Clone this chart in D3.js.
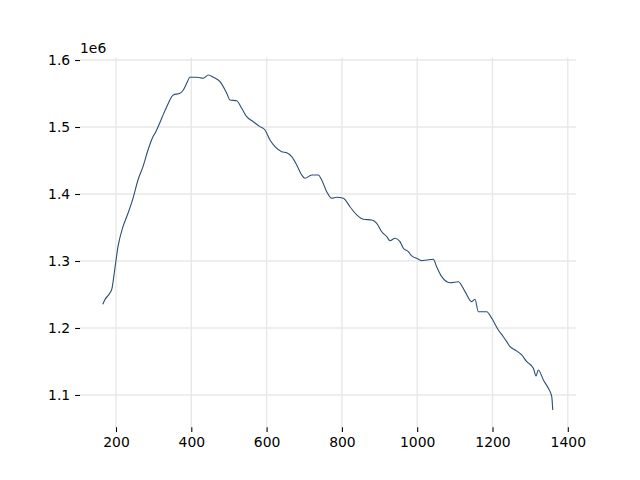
<!DOCTYPE html>
<html>
<head>
<meta charset="utf-8">
<script src="https://cdn.jsdelivr.net/npm/d3@7"></script>
<style>
  html, body { margin: 0; padding: 0; background: #fff; }
  svg { display: block; font-family: "DejaVu Sans", sans-serif; }
</style>
</head>
<body>
<svg id="chart" width="640" height="480"></svg>
<script>
// Data (x values and y values, in units of 1e6)
const xValues = [165, 170, 183.3, 189.4, 196.5, 205.3, 218.6, 231.9, 245.2, 258.4, 271.7, 285, 298.3, 303.6,
  321.4, 334.7, 352.2, 370, 378.8, 387.8, 396.6, 414.4, 431.9, 445.2, 458.5, 476.3, 494.1, 502.8, 520.6,
  533.9, 547.2, 564.7, 582.5, 595.8, 609.1, 622.4, 640.2, 653.4, 666.7, 680, 693.3, 702, 719.8, 737.4,
  746.4, 759.7, 773, 786.3, 803.8, 821.6, 839.4, 856.9, 879.2, 892.5, 905.8, 919.1, 927.8, 941.1, 954.4,
  963.2, 976.4, 985.5, 998.8, 1012, 1025.3, 1042.9, 1051.6, 1065.2, 1087.2, 1109.3, 1127.1, 1144.8,
  1153.6, 1162.4, 1184.7, 1198, 1215.5, 1228.8, 1237.8, 1246.6, 1259.9, 1277.7, 1291, 1308.5, 1315.7,
  1321.8, 1335.1, 1348.4, 1357.4, 1360];
const yValues = [1.2354, 1.2418, 1.2518, 1.2593, 1.2866, 1.3214, 1.3512, 1.3712, 1.3936, 1.4209, 1.4408,
  1.4657, 1.4855, 1.4906, 1.5130, 1.5303, 1.5478, 1.5503, 1.5552, 1.5652, 1.5742, 1.5742, 1.5727, 1.5776,
  1.5742, 1.5676, 1.5503, 1.5403, 1.5393, 1.5279, 1.5154, 1.5079, 1.5005, 1.4955, 1.4806, 1.4706, 1.4631,
  1.4616, 1.4557, 1.4433, 1.4284, 1.4234, 1.4284, 1.4284, 1.4209, 1.4034, 1.3936, 1.3951, 1.3936, 1.3810,
  1.3687, 1.3622, 1.3612, 1.3563, 1.3437, 1.3363, 1.3303, 1.3339, 1.3288, 1.3190, 1.3139, 1.3075, 1.3040,
  1.3005, 1.3015, 1.3025, 1.2915, 1.2766, 1.2676, 1.2691, 1.2542, 1.2393, 1.2428, 1.2243, 1.2243, 1.2145,
  1.1970, 1.1870, 1.1796, 1.1721, 1.1672, 1.1597, 1.1497, 1.1399, 1.1284, 1.1373, 1.1224, 1.1100, 1.0975,
  1.0776];
const xTicks = [200, 400, 600, 800, 1000, 1200, 1400];
const yTicks = [1.1, 1.2, 1.3, 1.4, 1.5, 1.6];
const offsetLabel = "1e6";

const W = 640, H = 480;
const m = { left: 80, right: 576, top: 57.6, bottom: 427.2 };
const svg = d3.select("#chart");

const x = d3.scaleLinear().domain([104.4, 1421.8]).range([m.left, m.right]);
const y = d3.scaleLinear().domain([1.0519, 1.6036]).range([m.bottom, m.top]);

const data = xValues.map((v, i) => [v, yValues[i]]);

// grid
const grid = svg.append("g");
grid.selectAll("line.gx").data(xTicks).enter().append("line")
  .attr("x1", d => x(d)).attr("x2", d => x(d))
  .attr("y1", m.top).attr("y2", m.bottom)
  .attr("stroke", "#e8e8e8").attr("stroke-width", 1.4);
grid.selectAll("line.gy").data(yTicks).enter().append("line")
  .attr("x1", m.left).attr("x2", m.right)
  .attr("y1", d => y(d)).attr("y2", d => y(d))
  .attr("stroke", "#e8e8e8").attr("stroke-width", 1.4);

// line
svg.append("path").datum(data)
  .attr("fill", "none")
  .attr("stroke", "#2e4d73")
  .attr("stroke-width", 1.1)
  .attr("stroke-linejoin", "round")
  .attr("d", d3.line().curve(d3.curveMonotoneX).x(d => x(d[0])).y(d => y(d[1])));

// axes
const xAxis = d3.axisBottom(x).tickValues(xTicks).tickSize(4.9).tickPadding(4.9).tickFormat(d3.format("d"));
const gx = svg.append("g").attr("transform", `translate(0,${m.bottom})`).call(xAxis);
gx.select(".domain").remove();
gx.selectAll(".tick line").attr("stroke", "#000").attr("stroke-width", 1.1);
gx.selectAll(".tick text").attr("fill", "#000").style("font-size", "13.9px").style("font-family", "DejaVu Sans");

const yAxis = d3.axisLeft(y).tickValues(yTicks).tickSize(4.9).tickPadding(4.9).tickFormat(d3.format(".1f"));
const gy = svg.append("g").attr("transform", `translate(${m.left},0)`).call(yAxis);
gy.select(".domain").remove();
gy.selectAll(".tick line").attr("stroke", "#000").attr("stroke-width", 1.1);
gy.selectAll(".tick text").attr("fill", "#000").style("font-size", "13.9px").style("font-family", "DejaVu Sans");

svg.append("text").attr("x", m.left).attr("y", 53)
  .attr("fill", "#000").style("font-size", "13.9px").style("font-family", "DejaVu Sans")
  .text(offsetLabel);
</script>
</body>
</html>
